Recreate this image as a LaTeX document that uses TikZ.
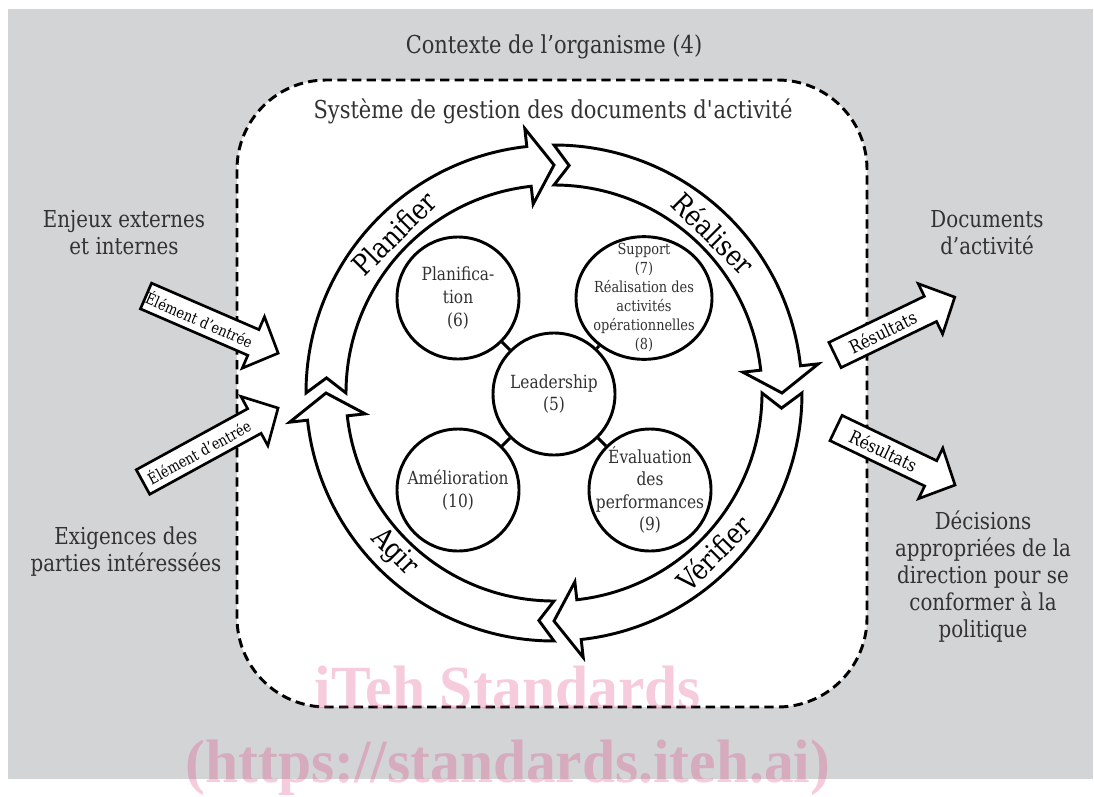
\documentclass[tikz,border=0pt]{standalone}
\usepackage{fontspec}
\setmainfont[FakeStretch=0.85]{DejaVu Serif}
\newfontfamily\wmfont[FakeStretch=0.97]{Liberation Serif}
\usetikzlibrary{shapes.geometric}

\definecolor{bggrey}{RGB}{211,212,214}
\definecolor{txt}{RGB}{50,50,50}
\definecolor{wmpink}{RGB}{220,50,115}

% block arrow: name, tail point, angle, length, text style, text
\newcommand\blockarrow[6]{%
  \begin{scope}[shift={#2}, rotate=#3]
    \draw[blockarrow] (0,14) -- ({#4-27},14) -- ({#4-27},28) -- (#4,0)
      -- ({#4-27},-28) -- ({#4-27},-14) -- (0,-14) -- cycle;
    \node[#5, rotate=#3] (#1) at ({(#4-27)/2},0) {#6};
  \end{scope}}

\begin{document}
\begin{tikzpicture}[x=0.75pt, y=0.75pt,
  outertext/.style={text=txt, align=center, font=\fontsize{17.5}{20.25}\selectfont},
  headtext/.style={text=txt, align=center, font=\fontsize{18.5}{22}\selectfont},
  circtext/.style={text=txt, align=center, font=\fontsize{13.6}{16.9}\selectfont},
  smalltext/.style={text=txt, align=center, font=\fontsize{11.4}{14.25}\selectfont},
  phasetext/.style={text=black, font=\fontsize{21.5}{24}\selectfont},
  intext/.style={text=black, font=\fontsize{11.5}{12}\selectfont, inner sep=0pt},
  outtext/.style={text=black, font=\fontsize{13.5}{14}\selectfont, inner sep=0pt},
  blockarrow/.style={draw=black, fill=white, line width=2pt, line join=miter},
  band/.style={draw=black, fill=white, line width=2.2pt, line join=miter},
  circ/.style={circle, draw=black, fill=white, line width=2.2pt, minimum size=91.5pt, inner sep=0pt},
  oval/.style={ellipse, draw=black, fill=white, line width=2.2pt, minimum width=102pt, minimum height=92pt, inner sep=0pt},
  link/.style={draw=black, line width=2.2pt},
  sysbox/.style={draw=black, fill=white, line width=2.2pt, dash pattern=on 7pt off 4pt, rounded corners=67pt},
  watermark/.style={text=wmpink, opacity=0.25, inner sep=0pt}
]
\useasboundingbox (0,0) rectangle (1094,-796);

% context of the organisation
\fill[bggrey] (8,-9) rectangle (1093,-779);
\node[headtext] (ctx) at (554,-47) {Contexte de l’organisme (4)};

% management system boundary
\draw[sysbox] (237,-80) rectangle (867,-707);
\node[headtext] (sys) at (553,-111) {Système de gestion des documents d\textquotesingle activité};

% PDCA ring: four curved arrows around the centre
\def\Ro{248}\def\Ri{208}\def\Rm{228}\def\Rwo{266}\def\Rwi{190}
\begin{scope}[shift={(554,-393)}]
  \foreach \a in {180,90,0,-90}{%
    \pgfmathsetmacro\b{\a-90}
    \pgfmathsetmacro\bh{\a-90+6.3}
    \pgfmathsetmacro\an{\a-3.8}
    \draw[band] (\a:\Ro) arc[start angle=\a, end angle=\bh, radius=\Ro]
      -- (\bh:\Rwo) -- (\b:\Rm) -- (\bh:\Rwi) -- (\bh:\Ri)
      arc[start angle=\bh, end angle=\a, radius=\Ri]
      -- (\an:\Rm) -- cycle;
  }
  \node[phasetext, rotate=45]  (plan-l) at (135:226) {Planifier};
  \node[phasetext, rotate=-45] (do-l)   at (45:226)  {Réaliser};
  \node[phasetext, rotate=45]  (chk-l)  at (-45:226) {Vérifier};
  \node[phasetext, rotate=-45] (act-l)  at (-135:226) {Agir};
\end{scope}

% clauses
\node[circ, label={[circtext]center:{Leadership\\(5)}}] (lead) at (554,-394) {};
\node[circ, label={[circtext]center:{Planifica-\\tion\\(6)}}] (plan) at (458,-298) {};
\node[oval, label={[smalltext]center:{Support\\(7)\\Réalisation des\\activités\\opérationnelles\\(8)}}] (sup) at (644,-298) {};
\node[circ, label={[circtext]center:{Amélioration\\(10)}}] (amel) at (458,-490) {};
\node[circ, label={[circtext]center:{Évaluation\\des\\performances\\(9)}}] (eval) at (650,-490) {};
\draw[link] (lead) -- (plan);
\draw[link] (lead) -- (sup);
\draw[link] (lead) -- (amel);
\draw[link] (lead) -- (eval);

% inputs
\node[outertext] (issues) at (124,-233) {Enjeux externes\\et internes};
\node[outertext] (reqs) at (126,-552) {Exigences des\\parties intéressées};
\blockarrow{in1}{(146,-296)}{-23.4}{144}{intext}{Élément d’entrée}
\blockarrow{in2}{(143,-482)}{28.7}{154}{intext}{Élément d’entrée}

% outputs
\node[outertext] (docs) at (987,-233) {Documents\\d’activité};
\node[outertext] (dec) at (983,-577) {Décisions\\appropriées de la\\direction pour se\\conformer à la\\politique};
\blockarrow{out1}{(835,-355)}{25.8}{133}{outtext}{Résultats}
\blockarrow{out2}{(836,-428)}{-25.6}{132}{outtext}{Résultats}

% publisher mark
\node[watermark, font=\wmfont\bfseries\fontsize{46}{46}\selectfont] (wm1) at (508,-688) {iTeh Standards};
\node[watermark, font=\wmfont\bfseries\fontsize{46}{46}\selectfont] (wm2) at (508,-768) {(https://standards.iteh.ai)};
\end{tikzpicture}
\end{document}
